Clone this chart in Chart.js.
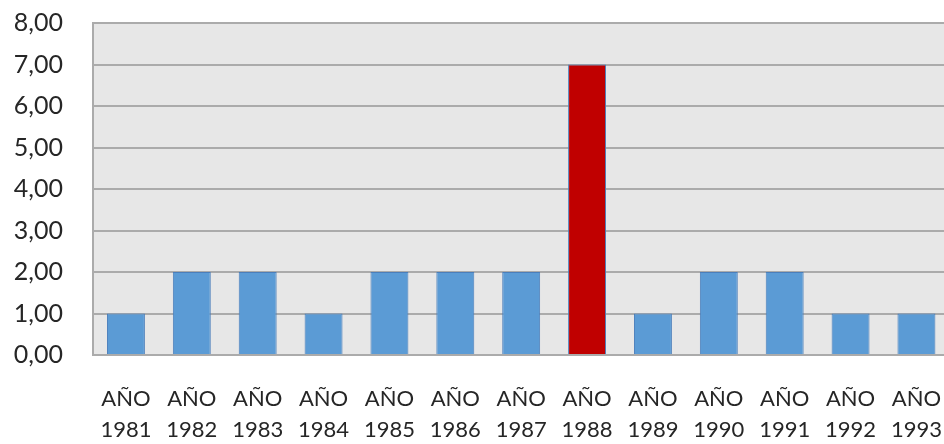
<!DOCTYPE html>
<html>
<head>
<meta charset="utf-8">
<script src="https://cdn.jsdelivr.net/npm/chart.js@4"></script>
<style>
  html, body { margin: 0; padding: 0; background: #fff; overflow: hidden; }
  canvas { display: block; }
</style>
</head>
<body>
<canvas id="yearChart" width="970" height="444"></canvas>
<script>
// chart data
const years = ['1981', '1982', '1983', '1984', '1985', '1986', '1987', '1988', '1989', '1990', '1991', '1992', '1993'];
const counts = [1, 2, 2, 1, 2, 2, 2, 7, 1, 2, 2, 1, 1];
const yTickLabels = ['0,00', '1,00', '2,00', '3,00', '4,00', '5,00', '6,00', '7,00', '8,00'];
const highlightYear = '1988';

// plot area background
const plotBackground = {
    id: 'plotBackground',
    beforeDraw(chart) {
        const a = chart.chartArea;
        const ctx = chart.ctx;
        ctx.save();
        ctx.fillStyle = '#e7e7e7';
        ctx.fillRect(a.left, a.top, a.right - a.left, a.bottom - a.top);
        ctx.restore();
    }
};

document.addEventListener('DOMContentLoaded', function() {
    const ctx = document.getElementById('yearChart').getContext('2d');

    new Chart(ctx, {
        type: 'bar',
        data: {
            labels: years.map(y => ['AÑO', y]),
            datasets: [{
                data: counts,
                backgroundColor: years.map(y => y === highlightYear ? '#c00000' : '#5b9bd5'),
                borderColor: '#4a7ebb',
                borderWidth: 1,
                categoryPercentage: 1,
                barPercentage: 0.576
            }]
        },
        options: {
            responsive: false,
            animation: false,
            layout: {
                padding: { top: 23, right: 1, bottom: 3, left: 0 }
            },
            plugins: {
                legend: { display: false },
                tooltip: { enabled: false }
            },
            scales: {
                x: {
                    afterFit: function(scale) {
                        scale.height = 86;
                    },
                    grid: { display: false, drawTicks: false },
                    border: { display: true, color: '#ababab', width: 2 },
                    ticks: {
                        color: '#262626',
                        padding: 28,
                        maxRotation: 0,
                        autoSkip: false,
                        font: { family: 'Lato', size: 22, lineHeight: 1.41 }
                    }
                },
                y: {
                    min: 0,
                    max: 8,
                    afterFit: function(scale) {
                        scale.width = 93;
                        // tick padding would otherwise push the plot down
                        scale.paddingTop = 0;
                        scale.paddingBottom = 0;
                    },
                    grid: { color: '#ababab', lineWidth: 2, drawTicks: false },
                    border: { display: true, color: '#ababab', width: 2 },
                    ticks: {
                        stepSize: 1,
                        color: '#262626',
                        padding: 30,
                        font: { family: 'Lato', size: 25 },
                        callback: function(value) {
                            return yTickLabels[value];
                        }
                    }
                }
            }
        },
        plugins: [plotBackground]
    });
});
</script>
</body>
</html>
